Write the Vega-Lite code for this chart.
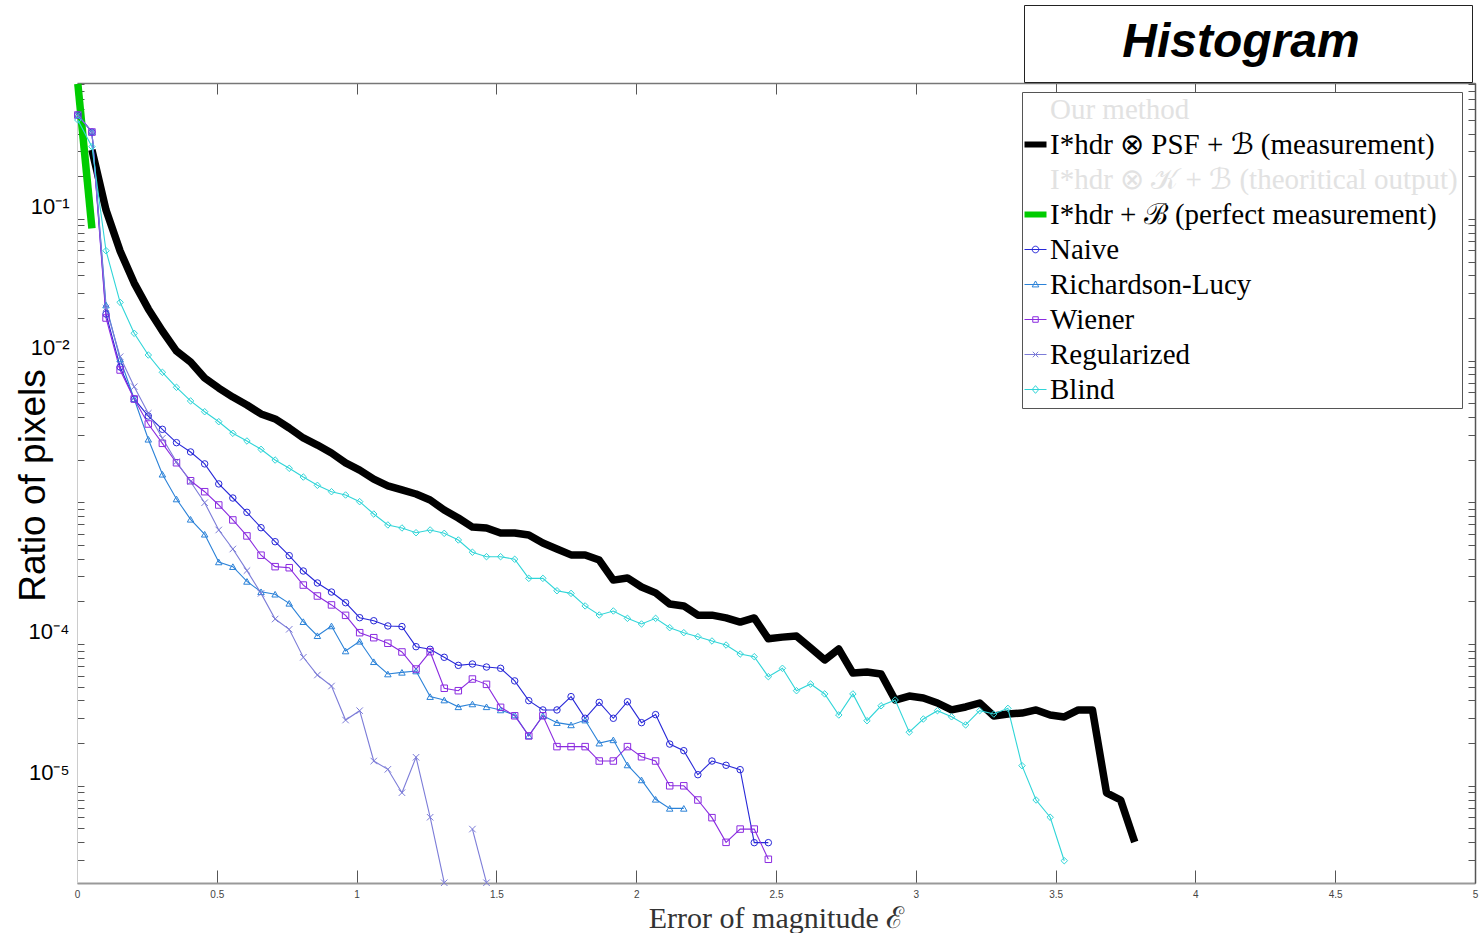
{
"$schema": "https://vega.github.io/schema/vega-lite/v6.json",
"width": 1398, "height": 800,
"autosize": {"type": "none"},
"padding": {"left": 77, "top": 83, "right": 7, "bottom": 50},
"background": "white",
"config": {"view": {"stroke": null}},
"datasets": {"d": [
{"s":"meas","x":0.0534,"y":0.307},{"s":"meas","x":0.1038,"y":0.1157},{"s":"meas","x":0.1542,"y":0.0594},{"s":"meas","x":0.2046,"y":0.0353},{"s":"meas","x":0.255,"y":0.0232},{"s":"meas","x":0.3054,"y":0.0162},{"s":"meas","x":0.3558,"y":0.0117},{"s":"meas","x":0.4062,"y":0.0098},{"s":"meas","x":0.4566,"y":0.00755},{"s":"meas","x":0.507,"y":0.00641},{"s":"meas","x":0.5574,"y":0.00554},{"s":"meas","x":0.6078,"y":0.00487},{"s":"meas","x":0.6582,"y":0.00421},{"s":"meas","x":0.7086,"y":0.00388},{"s":"meas","x":0.759,"y":0.00335},{"s":"meas","x":0.8094,"y":0.00285},{"s":"meas","x":0.8598,"y":0.00254},{"s":"meas","x":0.9102,"y":0.00223},{"s":"meas","x":0.9606,"y":0.0019},{"s":"meas","x":1.011,"y":0.00169},{"s":"meas","x":1.0614,"y":0.00146},{"s":"meas","x":1.1118,"y":0.00131},{"s":"meas","x":1.1622,"y":0.001224},{"s":"meas","x":1.2126,"y":0.001146},{"s":"meas","x":1.263,"y":0.00104},{"s":"meas","x":1.3134,"y":0.000884},{"s":"meas","x":1.3638,"y":0.000776},{"s":"meas","x":1.4142,"y":0.00067},{"s":"meas","x":1.4646,"y":0.00066},{"s":"meas","x":1.515,"y":0.000608},{"s":"meas","x":1.5654,"y":0.000608},{"s":"meas","x":1.6158,"y":0.000589},{"s":"meas","x":1.6662,"y":0.000517},{"s":"meas","x":1.7166,"y":0.000469},{"s":"meas","x":1.767,"y":0.000426},{"s":"meas","x":1.8174,"y":0.000426},{"s":"meas","x":1.8678,"y":0.000392},{"s":"meas","x":1.9182,"y":0.000283},{"s":"meas","x":1.9686,"y":0.000293},{"s":"meas","x":2.019,"y":0.000253},{"s":"meas","x":2.0694,"y":0.00023},{"s":"meas","x":2.1198,"y":0.000192},{"s":"meas","x":2.1702,"y":0.000186},{"s":"meas","x":2.2206,"y":0.00016},{"s":"meas","x":2.271,"y":0.00016},{"s":"meas","x":2.3214,"y":0.000153},{"s":"meas","x":2.3718,"y":0.000143},{"s":"meas","x":2.4222,"y":0.000153},{"s":"meas","x":2.4726,"y":0.000109},{"s":"meas","x":2.523,"y":0.000112},{"s":"meas","x":2.5734,"y":0.000114},{"s":"meas","x":2.6238,"y":0.0000939},{"s":"meas","x":2.6742,"y":0.0000773},{"s":"meas","x":2.7246,"y":0.0000923},{"s":"meas","x":2.775,"y":0.0000625},{"s":"meas","x":2.8254,"y":0.0000635},{"s":"meas","x":2.8758,"y":0.0000615},{"s":"meas","x":2.9262,"y":0.0000403},{"s":"meas","x":2.9766,"y":0.000043},{"s":"meas","x":3.027,"y":0.0000417},{"s":"meas","x":3.0774,"y":0.0000384},{"s":"meas","x":3.1278,"y":0.0000343},{"s":"meas","x":3.1782,"y":0.000036},{"s":"meas","x":3.2286,"y":0.0000384},{"s":"meas","x":3.279,"y":0.0000311},{"s":"meas","x":3.3294,"y":0.0000321},{"s":"meas","x":3.3798,"y":0.0000326},{"s":"meas","x":3.4302,"y":0.0000343},{"s":"meas","x":3.4806,"y":0.0000316},{"s":"meas","x":3.531,"y":0.0000306},{"s":"meas","x":3.5814,"y":0.0000343},{"s":"meas","x":3.6318,"y":0.0000343},{"s":"meas","x":3.6822,"y":0.0000089},{"s":"meas","x":3.7326,"y":0.00000794},{"s":"meas","x":3.783,"y":0.00000401},
{"s":"perf","x":0.003,"y":0.9},{"s":"perf","x":0.0534,"y":0.086},
{"s":"Naive","x":0.003,"y":0.542},{"s":"Naive","x":0.0534,"y":0.411},{"s":"Naive","x":0.1038,"y":0.02136},{"s":"Naive","x":0.1542,"y":0.00903},{"s":"Naive","x":0.2046,"y":0.00537},{"s":"Naive","x":0.255,"y":0.00407},{"s":"Naive","x":0.3054,"y":0.00328},{"s":"Naive","x":0.3558,"y":0.00264},{"s":"Naive","x":0.4062,"y":0.00227},{"s":"Naive","x":0.4566,"y":0.00187},{"s":"Naive","x":0.507,"y":0.00135},{"s":"Naive","x":0.5574,"y":0.001074},{"s":"Naive","x":0.6078,"y":0.000851},{"s":"Naive","x":0.6582,"y":0.000663},{"s":"Naive","x":0.7086,"y":0.000528},{"s":"Naive","x":0.759,"y":0.000421},{"s":"Naive","x":0.8094,"y":0.000328},{"s":"Naive","x":0.8598,"y":0.00027},{"s":"Naive","x":0.9102,"y":0.000233},{"s":"Naive","x":0.9606,"y":0.000196},{"s":"Naive","x":1.011,"y":0.0001536},{"s":"Naive","x":1.0614,"y":0.0001462},{"s":"Naive","x":1.1118,"y":0.0001343},{"s":"Naive","x":1.1622,"y":0.000133},{"s":"Naive","x":1.2126,"y":0.0000959},{"s":"Naive","x":1.263,"y":0.0000919},{"s":"Naive","x":1.3134,"y":0.0000807},{"s":"Naive","x":1.3638,"y":0.0000708},{"s":"Naive","x":1.4142,"y":0.0000724},{"s":"Naive","x":1.4646,"y":0.0000689},{"s":"Naive","x":1.515,"y":0.0000675},{"s":"Naive","x":1.5654,"y":0.000055},{"s":"Naive","x":1.6158,"y":0.0000399},{"s":"Naive","x":1.6662,"y":0.0000343},{"s":"Naive","x":1.7166,"y":0.0000343},{"s":"Naive","x":1.767,"y":0.0000426},{"s":"Naive","x":1.8174,"y":0.00002996},{"s":"Naive","x":1.8678,"y":0.0000388},{"s":"Naive","x":1.9182,"y":0.00002996},{"s":"Naive","x":1.9686,"y":0.0000392},{"s":"Naive","x":2.019,"y":0.0000279},{"s":"Naive","x":2.0694,"y":0.0000318},{"s":"Naive","x":2.1198,"y":0.0000197},{"s":"Naive","x":2.1702,"y":0.0000177},{"s":"Naive","x":2.2206,"y":0.00001198},{"s":"Naive","x":2.271,"y":0.00001496},{"s":"Naive","x":2.3214,"y":0.00001396},{"s":"Naive","x":2.3718,"y":0.000013},{"s":"Naive","x":2.4222,"y":0.00000397},{"s":"Naive","x":2.4726,"y":0.00000397},
{"s":"Richardson-Lucy","x":0.003,"y":0.542},{"s":"Richardson-Lucy","x":0.0534,"y":0.411},{"s":"Richardson-Lucy","x":0.1038,"y":0.0247},{"s":"Richardson-Lucy","x":0.1542,"y":0.01028},{"s":"Richardson-Lucy","x":0.2046,"y":0.00537},{"s":"Richardson-Lucy","x":0.255,"y":0.00279},{"s":"Richardson-Lucy","x":0.3054,"y":0.00158},{"s":"Richardson-Lucy","x":0.3558,"y":0.001057},{"s":"Richardson-Lucy","x":0.4062,"y":0.00076},{"s":"Richardson-Lucy","x":0.4566,"y":0.000596},{"s":"Richardson-Lucy","x":0.507,"y":0.00038},{"s":"Richardson-Lucy","x":0.5574,"y":0.000352},{"s":"Richardson-Lucy","x":0.6078,"y":0.000277},{"s":"Richardson-Lucy","x":0.6582,"y":0.000234},{"s":"Richardson-Lucy","x":0.7086,"y":0.000225},{"s":"Richardson-Lucy","x":0.759,"y":0.000194},{"s":"Richardson-Lucy","x":0.8094,"y":0.000144},{"s":"Richardson-Lucy","x":0.8598,"y":0.0001146},{"s":"Richardson-Lucy","x":0.9102,"y":0.0001343},{"s":"Richardson-Lucy","x":0.9606,"y":0.0000894},{"s":"Richardson-Lucy","x":1.011,"y":0.0001047},{"s":"Richardson-Lucy","x":1.0614,"y":0.0000751},{"s":"Richardson-Lucy","x":1.1118,"y":0.0000615},{"s":"Richardson-Lucy","x":1.1622,"y":0.0000632},{"s":"Richardson-Lucy","x":1.2126,"y":0.0000646},{"s":"Richardson-Lucy","x":1.263,"y":0.0000426},{"s":"Richardson-Lucy","x":1.3134,"y":0.0000403},{"s":"Richardson-Lucy","x":1.3638,"y":0.0000361},{"s":"Richardson-Lucy","x":1.4142,"y":0.0000378},{"s":"Richardson-Lucy","x":1.4646,"y":0.0000361},{"s":"Richardson-Lucy","x":1.515,"y":0.0000343},{"s":"Richardson-Lucy","x":1.5654,"y":0.0000316},{"s":"Richardson-Lucy","x":1.6158,"y":0.0000225},{"s":"Richardson-Lucy","x":1.6662,"y":0.0000312},{"s":"Richardson-Lucy","x":1.7166,"y":0.0000279},{"s":"Richardson-Lucy","x":1.767,"y":0.0000269},{"s":"Richardson-Lucy","x":1.8174,"y":0.0000291},{"s":"Richardson-Lucy","x":1.8678,"y":0.00002},{"s":"Richardson-Lucy","x":1.9182,"y":0.0000211},{"s":"Richardson-Lucy","x":1.9686,"y":0.00001403},{"s":"Richardson-Lucy","x":2.019,"y":0.000011},{"s":"Richardson-Lucy","x":2.0694,"y":0.00000803},{"s":"Richardson-Lucy","x":2.1198,"y":0.00000693},{"s":"Richardson-Lucy","x":2.1702,"y":0.00000693},
{"s":"Wiener","x":0.003,"y":0.542},{"s":"Wiener","x":0.0534,"y":0.411},{"s":"Wiener","x":0.1038,"y":0.02001},{"s":"Wiener","x":0.1542,"y":0.0086},{"s":"Wiener","x":0.2046,"y":0.00537},{"s":"Wiener","x":0.255,"y":0.003575},{"s":"Wiener","x":0.3054,"y":0.002612},{"s":"Wiener","x":0.3558,"y":0.001905},{"s":"Wiener","x":0.4062,"y":0.001422},{"s":"Wiener","x":0.4566,"y":0.00119},{"s":"Wiener","x":0.507,"y":0.000959},{"s":"Wiener","x":0.5574,"y":0.000752},{"s":"Wiener","x":0.6078,"y":0.00058},{"s":"Wiener","x":0.6582,"y":0.000424},{"s":"Wiener","x":0.7086,"y":0.000352},{"s":"Wiener","x":0.759,"y":0.000346},{"s":"Wiener","x":0.8094,"y":0.000261},{"s":"Wiener","x":0.8598,"y":0.0002185},{"s":"Wiener","x":0.9102,"y":0.000189},{"s":"Wiener","x":0.9606,"y":0.0001596},{"s":"Wiener","x":1.011,"y":0.0001204},{"s":"Wiener","x":1.0614,"y":0.000111},{"s":"Wiener","x":1.1118,"y":0.0001014},{"s":"Wiener","x":1.1622,"y":0.000088},{"s":"Wiener","x":1.2126,"y":0.0000667},{"s":"Wiener","x":1.263,"y":0.0000884},{"s":"Wiener","x":1.3134,"y":0.0000488},{"s":"Wiener","x":1.3638,"y":0.0000469},{"s":"Wiener","x":1.4142,"y":0.0000567},{"s":"Wiener","x":1.4646,"y":0.000052},{"s":"Wiener","x":1.515,"y":0.0000358},{"s":"Wiener","x":1.5654,"y":0.0000312},{"s":"Wiener","x":1.6158,"y":0.0000225},{"s":"Wiener","x":1.6662,"y":0.0000312},{"s":"Wiener","x":1.7166,"y":0.0000189},{"s":"Wiener","x":1.767,"y":0.0000189},{"s":"Wiener","x":1.8174,"y":0.0000189},{"s":"Wiener","x":1.8678,"y":0.00001496},{"s":"Wiener","x":1.9182,"y":0.00001496},{"s":"Wiener","x":1.9686,"y":0.0000189},{"s":"Wiener","x":2.019,"y":0.00001603},{"s":"Wiener","x":2.0694,"y":0.00001496},{"s":"Wiener","x":2.1198,"y":0.00001},{"s":"Wiener","x":2.1702,"y":0.00001},{"s":"Wiener","x":2.2206,"y":0.00000794},{"s":"Wiener","x":2.271,"y":0.00000596},{"s":"Wiener","x":2.3214,"y":0.00000399},{"s":"Wiener","x":2.3718,"y":0.00000495},{"s":"Wiener","x":2.4222,"y":0.00000495},{"s":"Wiener","x":2.4726,"y":0.00000303},
{"s":"Regularized","x":0.003,"y":0.542},{"s":"Regularized","x":0.0534,"y":0.411},{"s":"Regularized","x":0.1038,"y":0.02355},{"s":"Regularized","x":0.1542,"y":0.01067},{"s":"Regularized","x":0.2046,"y":0.006554},{"s":"Regularized","x":0.255,"y":0.004254},{"s":"Regularized","x":0.3054,"y":0.002834},{"s":"Regularized","x":0.3558,"y":0.001937},{"s":"Regularized","x":0.4062,"y":0.0014},{"s":"Regularized","x":0.4566,"y":0.000995},{"s":"Regularized","x":0.507,"y":0.000639},{"s":"Regularized","x":0.5574,"y":0.000469},{"s":"Regularized","x":0.6078,"y":0.00033},{"s":"Regularized","x":0.6582,"y":0.000228},{"s":"Regularized","x":0.7086,"y":0.0001503},{"s":"Regularized","x":0.759,"y":0.0001272},{"s":"Regularized","x":0.8094,"y":0.0000807},{"s":"Regularized","x":0.8598,"y":0.0000605},{"s":"Regularized","x":0.9102,"y":0.0000506},{"s":"Regularized","x":0.9606,"y":0.0000291},{"s":"Regularized","x":1.011,"y":0.0000339},{"s":"Regularized","x":1.0614,"y":0.00001496},{"s":"Regularized","x":1.1118,"y":0.00001307},{"s":"Regularized","x":1.1622,"y":0.00000894},{"s":"Regularized","x":1.2126,"y":0.0000159},{"s":"Regularized","x":1.263,"y":0.000006},{"s":"Regularized","x":1.3134,"y":0.00000207},{"s":"Regularized","x":1.4142,"y":0.00000495,"g":2},{"s":"Regularized","x":1.4646,"y":0.00000207,"g":2},
{"s":"Blind","x":0.003,"y":0.4995},{"s":"Blind","x":0.0534,"y":0.3237},{"s":"Blind","x":0.1038,"y":0.05973},{"s":"Blind","x":0.1542,"y":0.02582},{"s":"Blind","x":0.2046,"y":0.01561},{"s":"Blind","x":0.255,"y":0.01097},{"s":"Blind","x":0.3054,"y":0.00828},{"s":"Blind","x":0.3558,"y":0.00649},{"s":"Blind","x":0.4062,"y":0.0052},{"s":"Blind","x":0.4566,"y":0.004365},{"s":"Blind","x":0.507,"y":0.003711},{"s":"Blind","x":0.5574,"y":0.003074},{"s":"Blind","x":0.6078,"y":0.002713},{"s":"Blind","x":0.6582,"y":0.002369},{"s":"Blind","x":0.7086,"y":0.001991},{"s":"Blind","x":0.759,"y":0.00174},{"s":"Blind","x":0.8094,"y":0.00151},{"s":"Blind","x":0.8598,"y":0.00132},{"s":"Blind","x":0.9102,"y":0.00119},{"s":"Blind","x":0.9606,"y":0.001128},{"s":"Blind","x":1.011,"y":0.001012},{"s":"Blind","x":1.0614,"y":0.000828},{"s":"Blind","x":1.1118,"y":0.000693},{"s":"Blind","x":1.1622,"y":0.00066},{"s":"Blind","x":1.2126,"y":0.000611},{"s":"Blind","x":1.263,"y":0.000639},{"s":"Blind","x":1.3134,"y":0.000605},{"s":"Blind","x":1.3638,"y":0.000543},{"s":"Blind","x":1.4142,"y":0.000445},{"s":"Blind","x":1.4646,"y":0.000414},{"s":"Blind","x":1.515,"y":0.000414},{"s":"Blind","x":1.5654,"y":0.000397},{"s":"Blind","x":1.6158,"y":0.000291},{"s":"Blind","x":1.6662,"y":0.000291},{"s":"Blind","x":1.7166,"y":0.000238},{"s":"Blind","x":1.767,"y":0.000228},{"s":"Blind","x":1.8174,"y":0.000186},{"s":"Blind","x":1.8678,"y":0.0001604},{"s":"Blind","x":1.9182,"y":0.0001713},{"s":"Blind","x":1.9686,"y":0.000152},{"s":"Blind","x":2.019,"y":0.0001387},{"s":"Blind","x":2.0694,"y":0.000152},{"s":"Blind","x":2.1198,"y":0.0001306},{"s":"Blind","x":2.1702,"y":0.0001204},{"s":"Blind","x":2.2206,"y":0.0001128},{"s":"Blind","x":2.271,"y":0.0001052},{"s":"Blind","x":2.3214,"y":0.0000985},{"s":"Blind","x":2.3718,"y":0.0000851},{"s":"Blind","x":2.4222,"y":0.0000815},{"s":"Blind","x":2.4726,"y":0.0000589},{"s":"Blind","x":2.523,"y":0.0000675},{"s":"Blind","x":2.5734,"y":0.0000469},{"s":"Blind","x":2.6238,"y":0.0000523},{"s":"Blind","x":2.6742,"y":0.0000445},{"s":"Blind","x":2.7246,"y":0.0000316},{"s":"Blind","x":2.775,"y":0.0000445},{"s":"Blind","x":2.8254,"y":0.0000288},{"s":"Blind","x":2.8758,"y":0.0000367},{"s":"Blind","x":2.9262,"y":0.0000403},{"s":"Blind","x":2.9766,"y":0.0000239},{"s":"Blind","x":3.027,"y":0.0000296},{"s":"Blind","x":3.0774,"y":0.0000339},{"s":"Blind","x":3.1278,"y":0.0000307},{"s":"Blind","x":3.1782,"y":0.0000269},{"s":"Blind","x":3.2286,"y":0.0000339},{"s":"Blind","x":3.279,"y":0.0000321},{"s":"Blind","x":3.3294,"y":0.0000352},{"s":"Blind","x":3.3798,"y":0.00001387},{"s":"Blind","x":3.4302,"y":0.00000794},{"s":"Blind","x":3.4806,"y":0.000006},{"s":"Blind","x":3.531,"y":0.00000296}
]},
"data": {"name": "d"},
"resolve": {"axis": {"x": "independent", "y": "independent"}},
"layer": [
{
"transform": [{"filter": "datum.s == 'meas' || datum.s == 'perf'"}],
"mark": {"type": "line", "strokeWidth": 7.5, "strokeJoin": "round", "strokeCap": "butt"},
"encoding": {
"x": {"field": "x", "type": "quantitative", "scale": {"domain": [0, 5], "nice": false, "zero": false},
 "axis": {"orient": "bottom", "values": [0,0.5,1,1.5,2,2.5,3,3.5,4,4.5,5], "format": "~g", "grid": false, "labelFlush": false,
  "labelFont": "Liberation Sans", "labelFontSize": 10, "labelColor": "#444", "labelPadding": 19,
  "tickSize": -13, "tickColor": "#555", "tickWidth": 1, "domainColor": "#999", "domainWidth": 2,
  "title": "Error of magnitude ℰ", "titleFont": "Liberation Serif", "titleFontSize": 30, "titleFontWeight": "normal", "titleColor": "#333", "titleBaseline": "alphabetic", "titleY": 44}},
"y": {"field": "y", "type": "quantitative", "scale": {"type": "log", "domain": [0.000002061, 0.9116], "nice": false},
 "axis": {"orient": "left", "grid": false, "labelFlush": false, "labelOverlap": false,
  "values": [0.000003,0.000004,0.000005,0.000006,0.000007,0.000008,0.000009,0.00001,0.00002,0.00003,0.00004,0.00005,0.00006,0.00007,0.00008,0.00009,0.0001,0.0002,0.0003,0.0004,0.0005,0.0006,0.0007,0.0008,0.0009,0.001,0.002,0.003,0.004,0.005,0.006,0.007,0.008,0.009,0.01,0.02,0.03,0.04,0.05,0.06,0.07,0.08,0.09,0.1,0.2,0.3,0.4,0.5,0.6,0.7,0.8,0.9],
  "labelExpr": "datum.value == 0.1 ? '10⁻¹' : datum.value == 0.01 ? '10⁻²' : datum.value == 0.0001 ? '10⁻⁴' : datum.value == 0.00001 ? '10⁻⁵' : ''",
  "labelFont": "Liberation Sans", "labelFontSize": 22, "labelColor": "black", "labelPadding": 15, "labelOffset": -13, "labelBaseline": "middle", "labelAlign": "right",
  "tickSize": -7, "tickColor": "#555", "tickWidth": 1, "domainColor": "#cccccc", "domainWidth": 1,
  "title": "Ratio of pixels", "titleFont": "Liberation Sans", "titleFontSize": 37, "titleFontWeight": "normal", "titleColor": "black", "titleX": -33, "titleY": 402, "titleAngle": -90, "titleAlign": "center", "titleBaseline": "alphabetic",
  "encode": {"ticks": {"update": {"x2": {"signal": "abs(log(datum.value)/LN10 - round(log(datum.value)/LN10)) < 0.001 ? 13 : 7"}}}}}},
"stroke": {"field": "s", "type": "nominal",
 "scale": {"domain": ["our","meas","theo","perf","Naive","Richardson-Lucy","Wiener","Regularized","Blind"],
  "range": ["#ffffff","#000000","#ffffff","#00cc00","#2828d8","#2b82d8","#8b2be0","#7c7cd8","#30d5d8"]},
 "legend": {"orient": "none", "legendX": 945, "legendY": 9, "title": null,
  "labelFont": "Liberation Serif", "labelFontSize": 29, "labelColor": "black", "labelLimit": 800, "labelOffset": 0,
  "symbolSize": 484, "symbolStrokeWidth": 1, "symbolOffset": -4, "padding": 3, "rowPadding": 5,
  "strokeColor": "#555", "fillColor": "white",
  "labelExpr": "datum.value == 'our' ? 'Our method' : datum.value == 'meas' ? 'I*hdr ⊗ PSF + ℬ (measurement)' : datum.value == 'theo' ? 'I*hdr ⊗ 𝒦 + ℬ (theoritical output)' : datum.value == 'perf' ? 'I*hdr + ℬ (perfect measurement)' : datum.label",
  "encode": {
   "labels": {"update": {"fill": {"signal": "datum.value == 'our' || datum.value == 'theo' ? '#e2e2e2' : 'black'"}}},
   "symbols": {"update": {
     "fill": {"value": "transparent"},
     "strokeWidth": {"signal": "datum.value == 'meas' || datum.value == 'perf' ? 6 : 1"},
     "shape": {"signal": "datum.value == 'Naive' ? 'M-1,0H1M0.3,0A0.3,0.3 0 1,1 -0.3,0A0.3,0.3 0 1,1 0.3,0' : datum.value == 'Richardson-Lucy' ? 'M-1,0H1M0,-0.32L0.3,0.22H-0.3Z' : datum.value == 'Wiener' ? 'M-1,0H1M-0.25,-0.25H0.25V0.25H-0.25Z' : datum.value == 'Regularized' ? 'M-1,0H1M-0.25,-0.25L0.25,0.25M-0.25,0.25L0.25,-0.25' : datum.value == 'Blind' ? 'M-1,0H1M0,-0.35L0.3,0L0,0.35L-0.3,0Z' : 'M-1,0H1'"}}}}}}
}
},
{
"transform": [{"filter": "datum.s != 'meas' && datum.s != 'perf'"}],
"mark": {"type": "line", "strokeWidth": 1.1},
"encoding": {
"x": {"field": "x", "type": "quantitative", "axis": null},
"y": {"field": "y", "type": "quantitative", "axis": null},
"stroke": {"field": "s", "type": "nominal"},
"detail": {"field": "g", "type": "nominal"}
}
},
{
"transform": [{"filter": "datum.s != 'meas' && datum.s != 'perf'"}],
"mark": {"type": "point", "filled": false, "strokeWidth": 1, "size": 42, "opacity": 1},
"encoding": {
"x": {"field": "x", "type": "quantitative", "axis": null},
"y": {"field": "y", "type": "quantitative", "axis": null},
"stroke": {"field": "s", "type": "nominal"},
"shape": {"field": "s", "type": "nominal", "legend": null,
 "scale": {"domain": ["Naive","Richardson-Lucy","Wiener","Regularized","Blind"], "range": ["circle","triangle-up","square","M-1,-1L1,1M-1,1L1,-1","diamond"]}}
}
},
{
"transform": [{"filter": "datum.s == 'meas'"}],
"mark": {"type": "point", "opacity": 0},
"encoding": {
"x": {"field": "x", "type": "quantitative",
 "axis": {"orient": "top", "values": [0,0.5,1,1.5,2,2.5,3,3.5,4,4.5,5], "labels": false, "title": null, "grid": false, "tickSize": -11, "tickColor": "#555", "domainColor": "#777", "domainWidth": 1.5}},
"y": {"field": "y", "type": "quantitative",
 "axis": {"orient": "right", "labels": false, "title": null, "grid": false, "tickSize": -7, "tickColor": "#555", "domainColor": "#555", "domainWidth": 1.5,
  "values": [0.000003,0.000004,0.000005,0.000006,0.000007,0.000008,0.000009,0.00001,0.00002,0.00003,0.00004,0.00005,0.00006,0.00007,0.00008,0.00009,0.0001,0.0002,0.0003,0.0004,0.0005,0.0006,0.0007,0.0008,0.0009,0.001,0.002,0.003,0.004,0.005,0.006,0.007,0.008,0.009,0.01,0.02,0.03,0.04,0.05,0.06,0.07,0.08,0.09,0.1,0.2,0.3,0.4,0.5,0.6,0.7,0.8,0.9],
  "encode": {"ticks": {"update": {"x2": {"signal": "abs(log(datum.value)/LN10 - round(log(datum.value)/LN10)) < 0.001 ? -13 : -7"}}}}}},
"fill": {"field": "x", "type": "quantitative", "scale": {"domain": [0, 5], "range": ["#ffffff", "#ffffff"]},
 "legend": {"title": "Histogram", "orient": "none", "legendX": 947, "legendY": -78, "direction": "horizontal",
  "gradientLength": 420, "gradientThickness": 1, "gradientStrokeWidth": 0, "gradientStrokeColor": "#ffffff",
  "values": [], "labelOpacity": 0, "labelFontSize": 1, "labelOffset": 0, "padding": 14,
  "titleFont": "Liberation Sans", "titleFontSize": 48, "titleFontWeight": "bold", "titleFontStyle": "italic", "titleColor": "black",
  "titleAnchor": "middle", "titleAlign": "center", "titlePadding": 0, "titleLimit": 1000,
  "strokeColor": "#222", "fillColor": "white"}}
}
}
]
}
